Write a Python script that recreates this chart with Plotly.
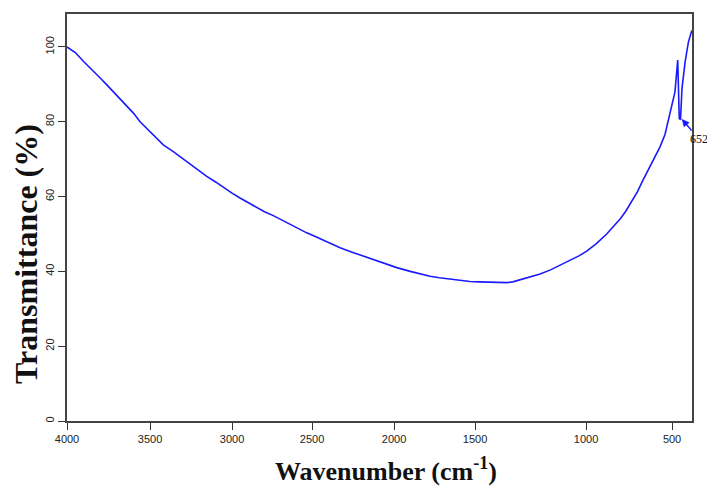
import numpy as np
import plotly.graph_objects as go

# ---- data (wavenumber in cm-1, transmittance in %) ----
wavenumber = [4000, 3950, 3900, 3850, 3800, 3750, 3700, 3650, 3600, 3560, 3500, 3450,
              3419, 3358, 3300, 3256, 3200, 3154, 3100, 3053, 3000, 2950, 2900, 2846,
              2800, 2742, 2690, 2638, 2590, 2533, 2480, 2431, 2380, 2329, 2260, 2187,
              2100, 2040, 1983, 1900, 1840, 1778, 1720, 1654, 1590, 1531, 1480, 1432,
              1390, 1357, 1330, 1312, 1280, 1252, 1207, 1160, 1117, 1060, 1030, 996,
              940, 880, 840, 802, 770, 734, 700, 674, 640, 609, 570, 541, 512, 483,
              467, 458, 451, 442, 424, 405, 385]
transmittance = [100.0, 98.5, 96.1, 94.0, 91.7, 89.4, 87.0, 84.5, 82.3, 80.0, 77.3, 75.0,
                 73.8, 72.0, 70.1, 68.6, 66.9, 65.4, 63.9, 62.4, 60.9, 59.6, 58.4, 57.1,
                 56.0, 54.9, 53.7, 52.5, 51.4, 50.3, 49.3, 48.3, 47.3, 46.3, 45.2, 44.1,
                 42.8, 41.8, 41.0, 40.0, 39.3, 38.7, 38.3, 37.9, 37.6, 37.3, 37.2, 37.1,
                 37.0, 37.0, 37.2, 37.5, 38.1, 38.6, 39.3, 40.4, 41.6, 43.2, 44.2, 45.4,
                 47.4, 50.0, 52.0, 54.0, 56.0, 58.6, 61.4, 63.9, 67.0, 69.8, 73.3, 76.6,
                 82.0, 88.0, 96.5, 80.9, 80.5, 89.0, 96.0, 101.3, 104.4]

x_tick_labels = [4000, 3500, 3000, 2500, 2000, 1500, 1000, 500]
y_tick_labels = [0, 20, 40, 60, 80, 100]

peak_label = "652"
peak_wavenumber = 443
peak_value = 80.7

# ---- axis scale of the original instrument plot (piecewise linear wavenumber axis) ----
scale_wn = [4000, 3500, 3000, 2500, 2000, 1500, 1000, 500, 0]
scale_pos = [0, 83, 165, 245, 327, 408, 519, 605, 691]
x_end_wn = 384


def xscale(w):
    w = np.asarray(w, dtype=float)
    return np.interp(-w, -np.array(scale_wn, dtype=float), np.array(scale_pos, dtype=float))


fig = go.Figure()
fig.add_trace(go.Scatter(
    x=xscale(wavenumber), y=transmittance, mode="lines",
    line=dict(color="#1a1aff", width=1.6), hoverinfo="skip", showlegend=False,
))

# peak label with arrow pointing at the marked band
fig.add_annotation(
    x=float(xscale(peak_wavenumber)), y=peak_value, xref="x", yref="y",
    text=peak_label, showarrow=True, ax=17, ay=20, axref="pixel", ayref="pixel",
    arrowhead=2, arrowsize=1, arrowwidth=1.5, arrowcolor="#1a1aff",
    font=dict(family="Liberation Serif, Times New Roman, serif", size=12, color="#111"),
)

fig.add_annotation(
    x=0.51, y=-0.12, xref="paper", yref="paper", yanchor="middle",
    text="<b>Wavenumber (cm<sup>-1</sup>)</b>", showarrow=False,
    font=dict(family="Liberation Serif, Times New Roman, serif", size=26, color="#111"),
)
fig.add_annotation(
    x=-0.066, y=0.41, xref="paper", yref="paper", xanchor="center", yanchor="middle",
    text="<b>Transmittance (%)</b>", showarrow=False, textangle=-90,
    font=dict(family="Liberation Serif, Times New Roman, serif", size=32, color="#111"),
)

axis_font = dict(family="Liberation Sans, Arial, sans-serif", size=11, color="#222")
fig.update_xaxes(
    range=[0, float(xscale(x_end_wn))],
    tickmode="array", tickvals=xscale(x_tick_labels).tolist(),
    ticktext=[str(t) for t in x_tick_labels],
    ticks="outside", ticklen=7, tickwidth=1.3, tickcolor="#333",
    showline=True, linecolor="#444", linewidth=1.5, mirror=True,
    showgrid=False, zeroline=False, tickfont=axis_font,
)
fig.update_yaxes(
    range=[0, 108.8], tickmode="array", tickvals=y_tick_labels,
    ticktext=[str(t) for t in y_tick_labels], tickangle=-90,
    ticks="outside", ticklen=7, tickwidth=1.3, tickcolor="#333",
    showline=True, linecolor="#444", linewidth=1.5, mirror=True,
    showgrid=False, zeroline=False, tickfont=axis_font,
)
fig.update_layout(
    width=707, height=489,
    margin=dict(l=67, r=15, t=12, b=68),
    plot_bgcolor="white", paper_bgcolor="white",
)
fig.write_html("out.html", config={"displayModeBar": False},
               post_script="document.body.style.margin='0px';")
